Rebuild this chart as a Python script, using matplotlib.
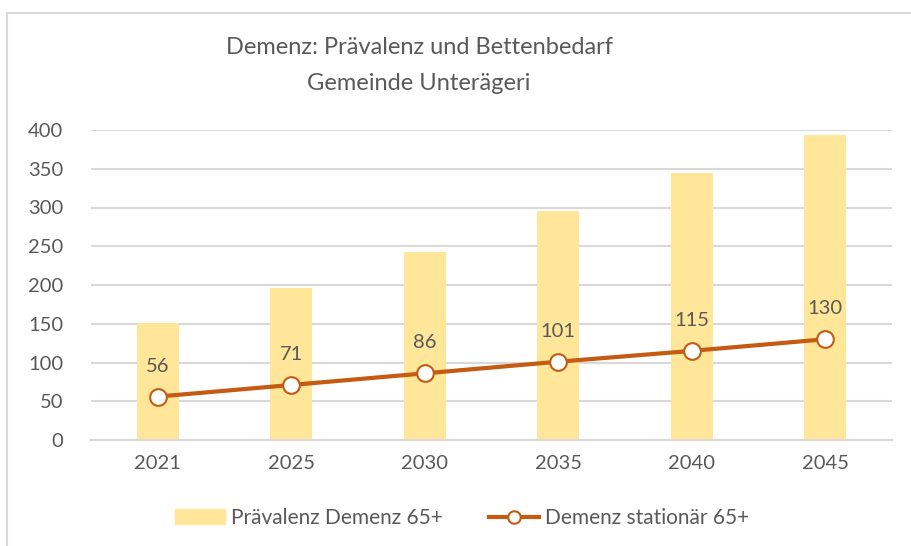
import numpy as np
import matplotlib.pyplot as plt
from matplotlib.lines import Line2D

years = ["2021", "2025", "2030", "2035", "2040", "2045"]
praevalenz = [151, 196, 243, 296, 344, 394]
stationaer = [56, 71, 86, 101, 115, 130]
y_ticks = [0, 50, 100, 150, 200, 250, 300, 350, 400]

plt.rcParams['font.family'] = ['Lato', 'DejaVu Sans']
grey = "#595959"
bar_col = "#FFE699"
line_col = "#C55A11"

fig = plt.figure(figsize=(9.11, 5.46), dpi=100)
ax = fig.add_axes([91/911, 1-440/546, (892-91)/911, (440-130)/546])

x = np.arange(len(years))
ax.bar(x, praevalenz, width=0.315, color=bar_col, zorder=2, label="Prävalenz Demenz 65+")
ax.plot(x, stationaer, color=line_col, lw=3, marker="o", ms=12, mfc="white",
        mec=line_col, mew=1.5, zorder=3, label="Demenz stationär 65+")
for xi, v in zip(x, stationaer):
    ax.annotate(str(v), (xi, v), xytext=(0, 22), textcoords="offset points",
                ha="center", va="center", fontsize=14.5, color=grey)

ax.set_xlim(-0.5, len(years)-0.5)
ax.set_ylim(0, 400)
ax.set_yticks(y_ticks)
ax.set_xticks(x)
ax.set_xticklabels(years)
ax.grid(axis="y", color="#D9D9D9", lw=1.5, zorder=0)
for s in ["top", "right", "left"]:
    ax.spines[s].set_visible(False)
ax.spines["bottom"].set_color("#D9D9D9")
ax.spines["bottom"].set_linewidth(1.5)
ax.tick_params(length=0, labelsize=14.5, labelcolor=grey)
ax.tick_params(axis="y", pad=20)
ax.tick_params(axis="x", pad=11)

fig.text(0.46, 1-48/546, "Demenz: Prävalenz und Bettenbedarf", ha="center", va="center",
         fontsize=17, color=grey)
fig.text(0.46, 1-84/546, "Gemeinde Unterägeri", ha="center", va="center",
         fontsize=17, color=grey)

handles = [plt.Rectangle((0, 0), 1, 1, color=bar_col),
           Line2D([0], [0], color=line_col, lw=3, marker="o", ms=9, mfc="white",
                  mec=line_col, mew=1.5)]
fig.legend(handles, ["Prävalenz Demenz 65+", "Demenz stationär 65+"],
           loc="center", bbox_to_anchor=(462/911, 1-518/546), ncol=2, frameon=False,
           fontsize=15, labelcolor=grey, handlelength=2.4, handletextpad=0.3,
           columnspacing=2.2)

# chart border (top and left visible in the crop)
fig.add_artist(Line2D([7/911, 1], [1-13/546, 1-13/546], color="#D9D9D9", lw=1.5))
fig.add_artist(Line2D([7/911, 7/911], [0, 1-13/546], color="#D9D9D9", lw=1.5))

fig.savefig("out.png", dpi=100)
